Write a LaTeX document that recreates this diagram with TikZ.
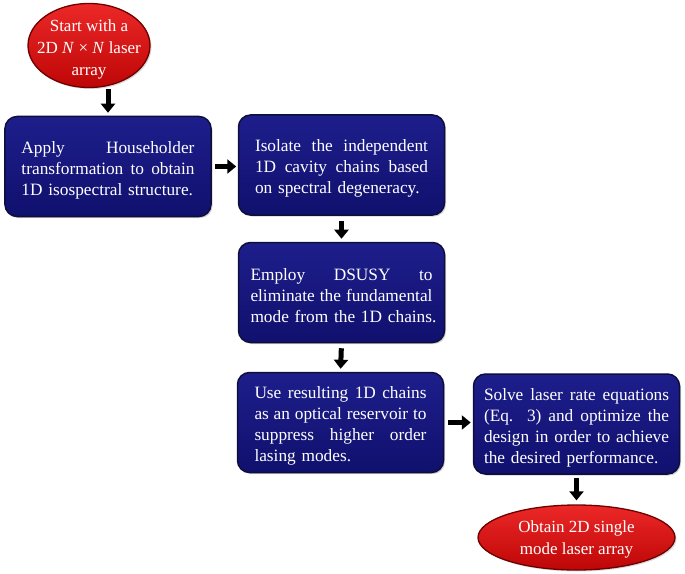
\documentclass[tikz,border=0pt]{standalone}
\usepackage{fontspec}
\setmainfont{Liberation Serif}
\usetikzlibrary{arrows.meta,shapes.geometric,shadows}
\definecolor{boxtop}{RGB}{30,30,140}
\definecolor{boxbot}{RGB}{16,16,110}
\definecolor{boxline}{RGB}{14,14,60}
\definecolor{ovtop}{RGB}{236,40,40}
\definecolor{ovbot}{RGB}{190,6,6}
\definecolor{ovline}{RGB}{110,0,0}
\newcommand{\curw}{173bp}
\newcommand{\jl}[1]{\makebox[\curw][s]{\spaceskip=0pt\xspaceskip=0pt\relax #1}}
\newcommand{\tp}[1]{\rule{0pt}{#1}}
\tikzset{
  stepbox/.style={rectangle, rounded corners=12bp, minimum width=206bp, minimum height=100bp,
    inner sep=0pt, top color=boxtop, bottom color=boxbot, draw=boxline, line width=1.5bp,
    text=white, align=left, font=\fontsize{17.3bp}{21bp}\selectfont,
    text width=#1, /utils/exec={\gdef\curw{#1}},
    drop shadow={opacity=0.35, shadow xshift=1.5bp, shadow yshift=-1.5bp}},
  stepbox/.default=173bp,
  ovalbox/.style={ellipse, inner xsep=-30bp, inner ysep=-20bp, top color=ovtop, bottom color=ovbot, draw=ovline,
    line width=1.3bp, text=white, align=center, font=\fontsize{17bp}{22bp}\selectfont,
    drop shadow={opacity=0.3, shadow xshift=1.5bp, shadow yshift=-1.5bp}},
  blockarrow/.style={line width=5bp, -{Triangle[length=9bp,width=14bp]}, black}
}
\begin{document}
\begin{tikzpicture}[x=1bp,y=-1bp]
\path[use as bounding box] (0,0) rectangle (685,574);

\node[ovalbox, minimum width=122bp, minimum height=84bp] (start) at (89,45.5)
  {\tp{19.5bp}Start with a\\2D \textit{N} × \textit{N} laser\\array};

\node[stepbox=173bp] (b1) at (108,166.5)
  {\tp{18.8bp}\jl{Apply Householder}\\\jl{transformation to obtain}\\\mbox{1D isospectral structure.}};

\node[stepbox=173bp] (b2) at (341.5,165)
  {\tp{18.8bp}\jl{Isolate the independent}\\\jl{1D cavity chains based}\\\mbox{on spectral degeneracy.}};

\node[stepbox=182bp] (b3) at (341.5,292.5)
  {\tp{18.8bp}\jl{Employ DSUSY to}\\\jl{eliminate the fundamental}\\\mbox{mode from the 1D chains.}};

\node[stepbox=172bp] (b4) at (340.5,422.5)
  {\tp{18.8bp}\jl{Use resulting 1D chains}\\\jl{as an optical reservoir to}\\\jl{suppress higher order}\\\mbox{lasing modes.}};

\node[stepbox=185bp] (b5) at (576.5,424)
  {\tp{18.8bp}\jl{Solve laser rate equations}\\\jl{(Eq. 3) and optimize the}\\\jl{design in order to achieve}\\\mbox{the desired performance.}};

\node[ovalbox, minimum width=197bp, minimum height=65bp] (end) at (576.5,537.5)
  {\tp{16.6bp}Obtain 2D single\\mode laser array};

\draw[blockarrow, shorten >=3bp] (start.south -| b1.north) ++(0,1) -- (b1.north);
\draw[blockarrow, shorten <=3bp, shorten >=1.5bp] (b1.east) -- (b1.east -| b2.west);
\draw[blockarrow, shorten <=5bp, shorten >=3bp] (b2.south) -- (b3.north);
\draw[blockarrow, shorten <=5bp, shorten >=3bp] (b3.south) -- (b4.north);
\draw[blockarrow, shorten <=4bp, shorten >=2bp] (b4.east) -- (b4.east -| b5.west);
\draw[blockarrow, shorten <=3bp, shorten >=4bp] (b5.south) -- (end.north);
\end{tikzpicture}
\end{document}
